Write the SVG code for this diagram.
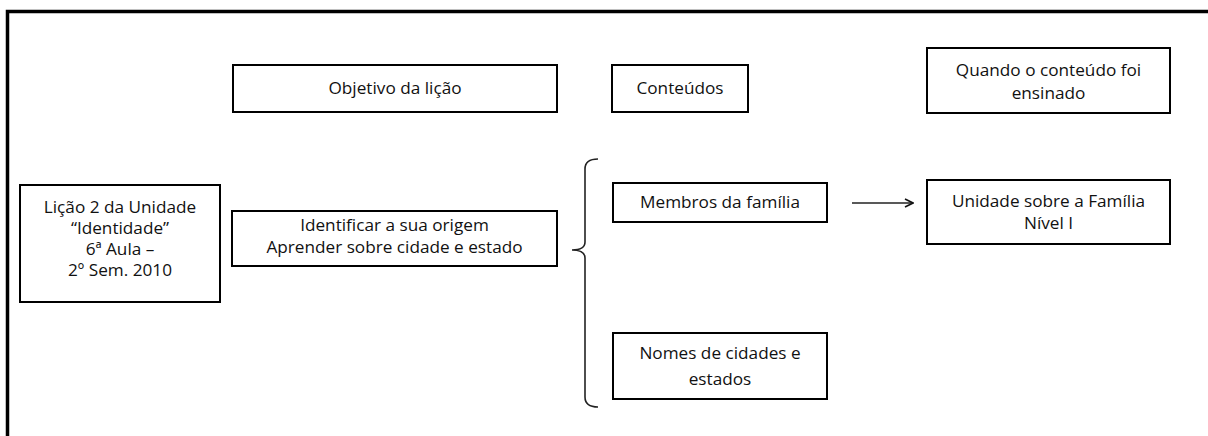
<svg xmlns="http://www.w3.org/2000/svg" width="1208" height="436" viewBox="0 0 1208 436">
<defs>
<style>
.box{fill:#fff;stroke:#000;stroke-width:2}
.t{font-family:"Open Sans","Liberation Sans",Arial,sans-serif;font-size:17.2px;fill:#111;text-anchor:middle}
.frame{fill:none;stroke:#000;stroke-width:3.5}
.conn{fill:none;stroke:#222;stroke-width:1.6}
</style>
<marker id="arr" viewBox="0 0 10 10" refX="9" refY="5" markerWidth="10" markerHeight="10" markerUnits="userSpaceOnUse" orient="auto">
<path d="M1,1 L9,5 L1,9" fill="none" stroke="#111" stroke-width="1.6"/>
</marker>
</defs>
<rect width="1208" height="436" fill="#fff"/>
<path class="frame" d="M7.5,436 L7.5,11.5 L1208,11.5"/>

<g id="licao">
<rect class="box" x="20" y="185" width="200" height="117"/>
<text class="t" x="120" y="213">Lição 2 da Unidade</text>
<text class="t" x="120" y="234">“Identidade”</text>
<text class="t" x="120" y="255">6ª Aula –</text>
<text class="t" x="120" y="276">2º Sem. 2010</text>
</g>
<g id="objetivo">
<rect class="box" x="233" y="65" width="324" height="47"/>
<text class="t" x="395" y="94">Objetivo da lição</text>
</g>
<g id="conteudos">
<rect class="box" x="612" y="65" width="136" height="47"/>
<text class="t" x="680" y="94">Conteúdos</text>
</g>
<g id="quando">
<rect class="box" x="927" y="48" width="243" height="65"/>
<text class="t" x="1048.5" y="76">Quando o conteúdo foi</text>
<text class="t" x="1048.5" y="99">ensinado</text>
</g>
<g id="identificar">
<rect class="box" x="232" y="211" width="325" height="55"/>
<text class="t" x="394.5" y="231">Identificar a sua origem</text>
<text class="t" x="394.5" y="253">Aprender sobre cidade e estado</text>
</g>
<g id="membros">
<rect class="box" x="613" y="183" width="214" height="39"/>
<text class="t" x="720" y="208">Membros da família</text>
</g>
<g id="nomes">
<rect class="box" x="613" y="333" width="214" height="66"/>
<text class="t" x="720" y="359">Nomes de cidades e</text>
<text class="t" x="720" y="385">estados</text>
</g>
<g id="unidade">
<rect class="box" x="927" y="180" width="243" height="64"/>
<text class="t" x="1048.5" y="207">Unidade sobre a Família</text>
<text class="t" x="1048.5" y="229">Nível I</text>
</g>
<g id="connectors">
<path class="conn" d="M598,159 Q585,159 585,169 L585,242 Q585,250 572,250 Q585,250 585,258 L585,397 Q585,407 598,407"/>
<line class="conn" x1="852" y1="203" x2="913" y2="203" marker-end="url(#arr)"/>
</g>
</svg>
